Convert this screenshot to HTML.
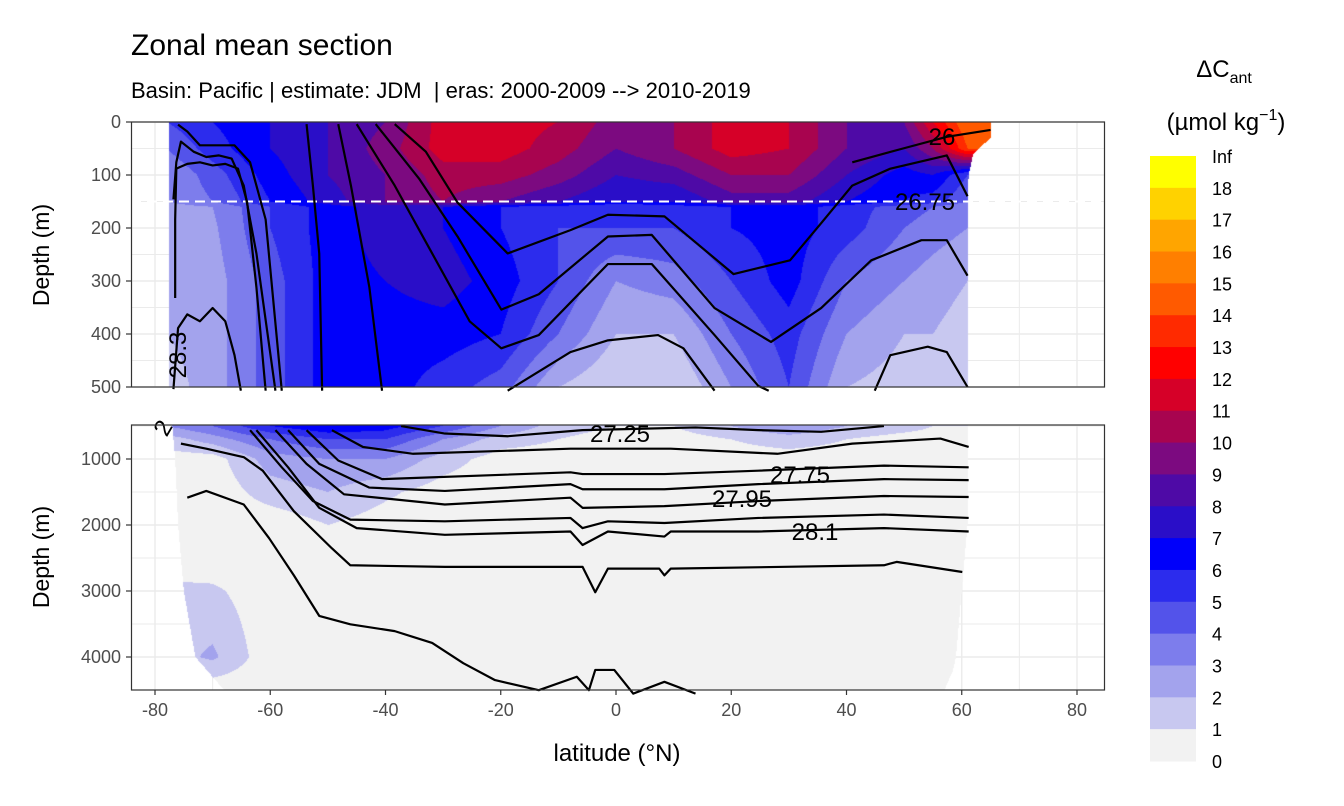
<!DOCTYPE html>
<html><head><meta charset="utf-8">
<style>
body{margin:0;background:#fff;width:1344px;height:806px;overflow:hidden;position:relative;font-family:"Liberation Sans",sans-serif}
svg,canvas{position:absolute;left:0;top:0}
</style></head>
<body>
<svg id="bg" width="1344" height="806"></svg>
<canvas id="cv" width="1344" height="806"></canvas>
<svg id="fg" width="1344" height="806"></svg>
<script>
// ---------- data ----------
const binColors=["#f2f2f2","#c8c8f0","#a3a3ed","#7d7dec","#5353ea","#2c2ced","#0000fa","#2a0ec8","#4e0aa6","#7c0a80","#a8044f","#d60028","#ff0000","#ff2a00","#ff5a00","#ff7f00","#ffa500","#ffd200","#ffff00"];
const legendLabels=["Inf","18","17","16","15","14","13","12","11","10","9","8","7","6","5","4","3","2","1","0"];
const gridLats=[-78,-70,-60,-50,-40,-30,-20,-10,0,10,20,30,40,50,55,61];
const topDepths=[0,50,100,150,160,200,300,400,500];
const topValues=[
[5,6,7,8,9,11.5,11.5,11,9.5,10,11.5,11,9,9,12,15],
[4,5.5,7,8,9.5,11.5,11.5,10.5,9,10,11.5,11,9,8,10,14],
[3,4.5,6.5,8,9,10.5,10.5,9.5,8,8.5,10,10,8,6.5,7,5],
[3,4,6,7.5,9,10,9,8,7,7,8.5,8.5,7,6,5.5,4],
[2.5,3,5,6.5,7.5,7,6,5.5,5,5.5,6,6.5,5.5,4.5,4,3],
[2.5,2.8,5,6.5,7.5,7,6,5,5,5,6,6.5,5.5,4,3.5,3],
[2,2.5,4.5,6.5,7,7.5,6.5,5,3,3.5,5,6.5,4,3,2.5,2],
[2,2.5,4.5,6.5,6.5,6.5,6,4,2,2,4,5.5,3,2,2,1.5],
[1.5,2.5,4.5,6.5,6.5,5.5,4.5,2,1,1,3,5,2,1.5,1.5,1]];
const botDepths=[500,700,1000,1500,2000,2500,3000,4000,4500];
const botValues=[
[3,4,6,7,6.5,5,3,1.5,1,1,2,3,2,1.5,1,1],
[1.5,2.5,4,5,5,3,1.5,1,0.5,0.5,1,1.5,1,0.5,0.5,0.5],
[0.5,0.5,2.5,3,3,1.5,0.5,0.5,0.5,0.5,0.5,0.5,0.5,0.5,0.5,0.5],
[0.3,0.3,1.5,2,1.2,0.5,0.3,0.3,0.3,0.3,0.3,0.3,0.3,0.3,0.3,0.3],
[0.3,0.3,0.3,1,0.5,0.3,0.3,0.3,0.3,0.3,0.3,0.3,0.3,0.3,0.3,0.3],
[0.3,0.3,0.3,0.3,0.3,0.3,0.3,0.3,0.3,0.3,0.3,0.3,0.3,0.3,0.3,0.3],
[1.3,1.2,0.3,0.3,0.3,0.3,0.3,0.3,0.3,0.3,0.3,0.3,0.3,0.3,0.3,0.3],
[1.5,2.2,0.3,0.3,0.3,0.3,0.3,0.3,0.3,0.3,0.3,0.3,0.3,0.3,0.3,0.3],
[0.3,0.3,0.3,0.3,0.3,0.3,0.3,0.3,0.3,0.3,0.3,0.3,0.3,0.3,0.3,0.3]];
const topBoundDepth=[0,30,60,100,150,500];
const topLeft=[-77.5,-77.5,-77.5,-77.5,-77.5,-77.5];
const topRight=[65,65,62,61.2,61,61];
const botBoundDepth=[500,1000,2000,2500,3000,3500,4000,4200,4500];
const botLeft=[-77,-76.5,-76,-75.5,-75,-74,-73,-71,-68];
const botRight=[61,61,61,60.5,60,59.5,59,58.5,57];
const topContours=[
[[-76.5,332],[-76.5,184],[-76.3,88],[-74.4,79],[-72.2,76],[-70,82],[-67.8,79],[-65.6,88],[-64,152],[-62.4,312],[-60.8,507]],
[[-76.8,146],[-76.3,76],[-75.5,37],[-73.3,56],[-71.1,66],[-68.9,63],[-66.7,69],[-64.6,120],[-62.4,248],[-59.1,507]],
[[-76,5],[-74.4,18],[-72.2,44],[-68.9,44],[-66.2,44],[-63.5,76],[-60.8,184],[-58,507]],
[[-76.8,504],[-76,389],[-74.4,363],[-72.2,376],[-70,351],[-67.8,376],[-66.2,440],[-65.1,507]],
[[-53.7,4],[-52.6,120],[-51.5,248],[-51,507]],
[[-48.2,4],[-46,120],[-42.8,312],[-40.6,507]],
[[-38.4,4],[-33,56],[-27.5,152],[-18.8,248],[-7.9,204],[-1.4,175],[8.4,178],[20.4,287],[30.2,261],[35.6,191],[41,120],[47.6,88],[57.4,63],[61,140]],
[[-41.7,4],[-34.1,108],[-27.5,216],[-19.9,354],[-13.4,325],[-1.4,216],[6.2,213],[17.1,351],[26.9,415],[35.6,351],[44.3,261],[53,223],[57.4,223],[61,290]],
[[-45,4],[-38.4,120],[-31.9,248],[-25.4,376],[-19.9,427],[-13.4,402],[-1.4,268],[6.2,268],[17.1,402],[24.7,498],[26.5,507]],
[[-18.8,507],[-7.9,434],[-1.4,412],[7.3,402],[11.7,427],[17.1,507]],
[[44.9,507],[47.6,440],[54.1,424],[57.4,434],[61,500]],
[[41,76],[49.8,50],[57.4,28],[65,15]]];
const botContours=[
[[-75.5,767],[-71.1,844],[-64.6,972],[-61.3,1177],[-55.9,1791],[-49.3,2354],[-46.1,2610],[-29.7,2635],[-5.8,2635],[-3.6,3019],[-1.4,2661],[7.5,2661],[8.4,2763],[9.5,2661],[46.5,2610],[48.7,2559],[60.1,2712]],
[[-74.4,1586],[-71.1,1484],[-64.6,1689],[-60.2,2200],[-55.9,2763],[-51.5,3377],[-46.1,3505],[-38.4,3608],[-31.9,3787],[-26.5,4094],[-21,4350],[-13.4,4503],[-6.8,4299],[-4.7,4503],[-3.6,4196],[-0.3,4196],[3,4555],[8.4,4376],[13.8,4555]],
[[-62.4,563],[-56.9,1126],[-51.5,1740],[-45,2047],[-29.7,2149],[-7.9,2098],[-5.8,2303],[-1.4,2098],[8.4,2175],[9.5,2098],[24.7,2098],[46.5,2047],[61.2,2098]],
[[-63.5,563],[-58,1126],[-52.6,1637],[-46.1,1919],[-29.7,1944],[-7.9,1893],[-5.8,2047],[-1.4,1944],[8.4,1970],[24.7,1893],[46.5,1842],[61.2,1893]],
[[-59.1,563],[-53.7,1074],[-47.2,1535],[-29.7,1689],[-7.9,1586],[-5.8,1740],[8.4,1714],[24.7,1637],[46.5,1561],[61.2,1576]],
[[-56.9,563],[-51.5,1074],[-42.8,1433],[-29.7,1484],[-7.9,1381],[-5.8,1458],[8.4,1458],[24.7,1381],[46.5,1305],[61.2,1320]],
[[-53.7,563],[-48.2,1023],[-40.6,1305],[-7.9,1202],[-5.8,1228],[8.4,1228],[24.7,1177],[46.5,1100],[61.2,1126]],
[[-49.3,563],[-43.9,818],[-35.2,921],[-7.9,844],[9.5,844],[28,921],[41,767],[56.3,690],[61.2,818]],
[[-37.3,501],[-29.7,614],[-18.8,655],[-5.8,563],[13.8,522],[24.7,563],[35.6,588],[46.5,501]]];
const xTicks=[-80,-60,-40,-20,0,20,40,60,80];
const topTicks=[0,100,200,300,400,500];
const botTicks=[1000,2000,3000,4000];
// ---------- scales ----------
const PX0=131,PX1=1105;
const xs=lat=>616+lat*5.7625;
const ysTop=d=>122+d*0.53;
const ysBot=d=>459+(d-1000)*0.066;
const NS='http://www.w3.org/2000/svg';
function mk(p,tag,at){const e=document.createElementNS(NS,tag);for(const k in at)e.setAttribute(k,at[k]);p.appendChild(e);return e;}
function txt(p,x,y,s,size,anchor,extra){const t=mk(p,'text',Object.assign({x:x,y:y,'font-size':size,'text-anchor':anchor||'start',fill:'#000','font-family':'Liberation Sans, sans-serif'},extra||{}));t.textContent=s;return t;}
const bg=document.getElementById('bg'),fg=document.getElementById('fg');
const panels=[[122,387,ysTop,[50,150,250,350,450],topTicks],[425,690,ysBot,[1500,2500,3500,500],botTicks]];
panels.forEach(([t,b,ys,minor,major],i)=>{
  const g=mk(bg,'g',{});
  
  
  mk(g,'rect',{x:PX0,y:t,width:PX1-PX0,height:b-t,fill:'#fff'});
  for(let lat=-90;lat<=90;lat+=10){const x=xs(lat);if(x>PX0&&x<PX1)mk(g,'line',{x1:x,x2:x,y1:t,y2:b,stroke:'#ebebeb','stroke-width':lat%20?1:1.4});}
  minor.concat(major).forEach((d,j)=>{const y=ys(d);if(y>=t&&y<=b)mk(g,'line',{x1:PX0,x2:PX1,y1:y,y2:y,stroke:'#ebebeb','stroke-width':j<minor.length?1:1.4});});
});
// ---------- fill ----------
function interp(arr,xv,x){if(x<=xv[0])return arr[0];for(let i=1;i<xv.length;i++){if(x<=xv[i]){const f=(x-xv[i-1])/(xv[i]-xv[i-1]);return arr[i-1]+f*(arr[i]-arr[i-1]);}}return arr[arr.length-1];}
function field(vals,deps,lat,d){
  let r=deps.length-2;for(let i=1;i<deps.length;i++){if(d<=deps[i]){r=i-1;break;}}
  const fr=Math.max(0,Math.min(1,(d-deps[r])/(deps[r+1]-deps[r])));
  const la=Math.max(gridLats[0],Math.min(gridLats[gridLats.length-1],lat));
  const a=interp(vals[r],gridLats,la),b=interp(vals[r+1],gridLats,la);return a+fr*(b-a);}
const hex=h=>[parseInt(h.slice(1,3),16),parseInt(h.slice(3,5),16),parseInt(h.slice(5,7),16)];
const rgb=binColors.map(hex);
const cv=document.getElementById('cv'),ctx=cv.getContext('2d');
const img=ctx.createImageData(1344,806);
function paint(t,b,inv,vals,deps,bd,bl,br){
  for(let y=t;y<b;y++){const d=inv(y+0.5);const L=interp(bl,bd,d),R=interp(br,bd,d);
    for(let x=PX0;x<PX1;x++){const lat=(x+0.5-616)/5.7625;if(lat<L||lat>R)continue;
      let v=field(vals,deps,lat,d);let k=Math.max(0,Math.min(18,Math.floor(v)));const c=rgb[k];const o=(y*1344+x)*4;
      img.data[o]=c[0];img.data[o+1]=c[1];img.data[o+2]=c[2];img.data[o+3]=255;}}}
paint(122,387,y=>(y-122)/0.53,topValues,topDepths,topBoundDepth,topLeft,topRight);
paint(425,690,y=>1000+(y-459)/0.066,botValues,botDepths,botBoundDepth,botLeft,botRight);
ctx.putImageData(img,0,0);
// ---------- foreground ----------
const dash=mk(fg,'line',{x1:PX0,x2:PX1,y1:ysTop(150),y2:ysTop(150),stroke:'#fff','stroke-width':2,'stroke-dasharray':'10,6'});


function drawContours(list,ys,name){list.forEach((c,i)=>{const p=mk(fg,'polyline',{points:c.map(q=>xs(q[0])+','+ys(q[1])).join(' '),fill:'none',stroke:'#000','stroke-width':2.2,'stroke-linejoin':'round'});
  
  });}
drawContours(topContours,ysTop,'top-density-contour');
drawContours(botContours,ysBot,'bottom-density-contour');
[['26',942,145,0],['26.75',925,210,0],['27.25',620,442,0],['27.75',800,483,0],['27.95',742,507,0],['28.1',815,540,0]].forEach(l=>{
  const t=txt(fg,l[1],l[2],l[0],24,'middle');
  
  });
const l3=txt(fg,0,0,'28.3',24,'middle',{transform:'translate(186,355) rotate(-90)'});


const l4=txt(fg,0,0,'2',24,'middle',{transform:'translate(170,432) rotate(-60)'});


[[122,387],[425,690]].forEach(([t,b],i)=>{const r=mk(fg,'rect',{x:PX0+0.5,y:t,width:PX1-PX0-1,height:b-t,fill:'none',stroke:'#333','stroke-width':1.2});
  
  });
topTicks.forEach(d=>{const y=ysTop(d);mk(fg,'line',{x1:126,x2:131,y1:y,y2:y,stroke:'#333','stroke-width':1.2});
  const t=txt(fg,121,y+6,String(d),18,'end',{fill:'#4d4d4d'});
  
  });
botTicks.forEach(d=>{const y=ysBot(d);mk(fg,'line',{x1:126,x2:131,y1:y,y2:y,stroke:'#333','stroke-width':1.2});
  const t=txt(fg,121,y+6,String(d),18,'end',{fill:'#4d4d4d'});
  
  });
xTicks.forEach(v=>{const x=xs(v);mk(fg,'line',{x1:x,x2:x,y1:690,y2:695,stroke:'#333','stroke-width':1.2});
  const t=txt(fg,x,716,String(v),18,'middle',{fill:'#4d4d4d'});
  
  });
const ti=txt(fg,131,55,'Zonal mean section',30);


const st=txt(fg,131,98,'Basin: Pacific | estimate: JDM\u00a0 | eras: 2000-2009 --> 2010-2019',22);


[[255],[557]].forEach(([cy],i)=>{const t=txt(fg,0,0,'Depth (m)',23,'middle',{transform:'translate(49,'+cy+') rotate(-90)'});
  
  });
const xt=txt(fg,617,761,'latitude (°N)',24,'middle');


const lt=mk(fg,'text',{x:1224,y:77,'font-size':24,'text-anchor':'middle','font-family':'Liberation Sans, sans-serif'});
lt.innerHTML='ΔC<tspan font-size="16" dy="6">ant</tspan>';


const lu=mk(fg,'text',{x:1226,y:130,'font-size':24,'text-anchor':'middle','font-family':'Liberation Sans, sans-serif'});
lu.innerHTML='(µmol kg<tspan font-size="16" dy="-10">−1</tspan><tspan dy="10">)</tspan>';


const L0=156,LS=(761-156)/19;
for(let i=0;i<19;i++){const r=mk(fg,'rect',{x:1150,y:L0+i*LS,width:46,height:LS+0.5,fill:binColors[18-i]});
  
  }
legendLabels.forEach((s,i)=>{const t=txt(fg,1212,L0+i*LS+7,s,18,'start');
  
  });
</script>
</body></html>
